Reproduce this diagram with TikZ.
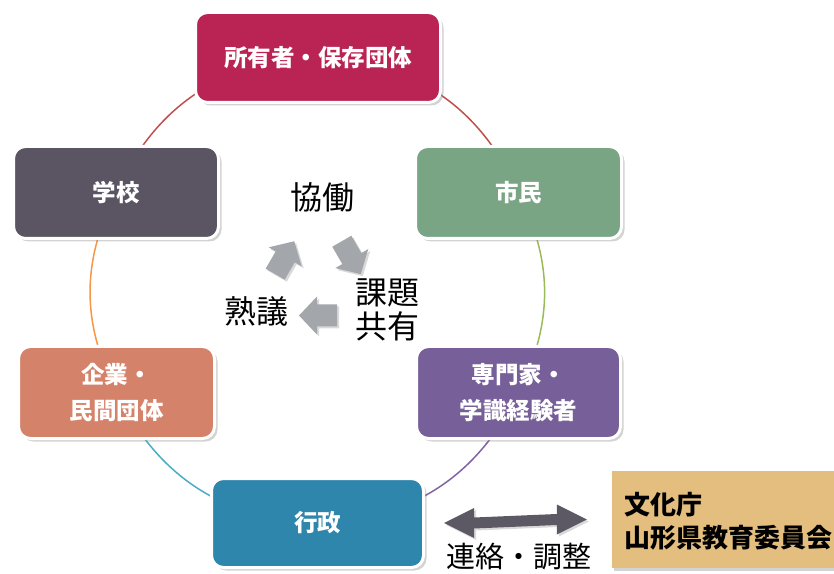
\documentclass[tikz,border=0pt]{standalone}
\usepackage{fontspec}
\setmainfont{Noto Sans CJK JP}
\usetikzlibrary{shadows,calc,backgrounds}
\definecolor{cTop}{HTML}{BA2454}
\definecolor{cSchool}{HTML}{5B5563}
\definecolor{cCitizen}{HTML}{7AA584}
\definecolor{cCorp}{HTML}{D5826B}
\definecolor{cExpert}{HTML}{77609A}
\definecolor{cGov}{HTML}{2F86AD}
\definecolor{cTan}{HTML}{E3BE7E}
\definecolor{cDark}{HTML}{5C5965}
\definecolor{cCyc}{HTML}{A3A6AA}
\definecolor{rRed}{HTML}{C0504D}
\definecolor{rGreen}{HTML}{9BBB59}
\definecolor{rPurple}{HTML}{8064A2}
\definecolor{rBlue}{HTML}{4BACC6}
\definecolor{rOrange}{HTML}{F79646}
\begin{document}
\begin{tikzpicture}[x=1pt,y=1pt,
  box/.style={rounded corners=12pt, draw=white, line width=3pt, text=white,
    font=\fontsize{23.5}{36}\selectfont\bfseries, align=center, inner sep=0pt,
    drop shadow={shadow xshift=3pt, shadow yshift=-3pt, opacity=0.35}},
  ring/.style={line width=1.5pt},
  cyclab/.style={font=\fontsize{32}{36}\selectfont, align=center, inner sep=0pt},
  cycarrow/.style={fill=cCyc, drop shadow={shadow xshift=2pt, shadow yshift=-2pt, opacity=0.3}}
]
\useasboundingbox (0,0) rectangle (834,573);

% boxes
\node[box, fill=cTop, minimum width=245pt, minimum height=90pt] (top) at (318,515.5) {所有者・保存団体};
\node[box, fill=cSchool, minimum width=205pt, minimum height=92pt] (school) at (116,380.5) {学校};
\node[box, fill=cCitizen, minimum width=206pt, minimum height=92pt] (citizen) at (518.5,380.5) {市民};
\node[box, fill=cCorp, minimum width=196pt, minimum height=92pt] (corp) at (116.5,180.5) {企業・\\民間団体};
\node[box, fill=cExpert, minimum width=204pt, minimum height=92pt] (expert) at (518.5,180.5) {専門家・\\学識経験者};
\node[box, fill=cGov, minimum width=212pt, minimum height=89pt] (gov) at (317.5,50) {行政};
\node[fill=cTan, minimum width=224pt, minimum height=97pt, inner sep=0pt,
  drop shadow={shadow xshift=2pt, shadow yshift=-3pt, opacity=0.35}] (bunka) at (724,53.5) {};
\node[anchor=west, align=left, inner sep=0pt, font=\fontsize{26}{33}\selectfont\bfseries, text=black] (bunkatxt) at (624,51.5) {文化庁\\山形県教育委員会};

% ring
\begin{pgfonlayer}{background}
\draw[ring, rRed] (top.center) to[bend left=32] (citizen.center);
\draw[ring, rGreen] (citizen.center) to[bend left=26.5] (expert.center);
\draw[ring, rPurple] (expert.center) to[bend left=31] (gov.center);
\draw[ring, rBlue] (gov.center) to[bend left=31] (corp.center);
\draw[ring, rOrange] (corp.center) to[bend left=26.5] (school.center);
\draw[ring, rRed] (school.center) to[bend left=32] (top.center);
\end{pgfonlayer}

% cycle arrows
\foreach \px/\py/\rot in {284.7/315.3/60, 351.3/315.3/-60, 318/257.5/180}{
  \begin{scope}[shift={(\px,\py)}, rotate=\rot]
    \path[cycarrow] (-19,-11) -- (1,-11) -- (1,-19) -- (19,0) -- (1,19) -- (1,11) -- (-19,11) -- cycle;
  \end{scope}
}
\node[cyclab] (kyodo) at (322,376) {協働};
\node[cyclab, font=\fontsize{32}{34}\selectfont] (kadai) at (387,263) {課題\\共有};
\node[cyclab] (jukugi) at (256,262) {熟議};

% double arrow
\coordinate (L) at ([xshift=19pt]gov.east);
\coordinate (R) at ([xshift=-25pt]bunka.west);
\path[fill=cDark, drop shadow={shadow xshift=2pt, shadow yshift=-2pt, opacity=0.3}]
  (L) -- ($(L)+(30,15)$) -- ($(L)+(30,5.5)$) -- ($(R)+(-30,5.5)$) -- ($(R)+(-30,15)$) -- (R)
  -- ($(R)+(-30,-15)$) -- ($(R)+(-30,-5.5)$) -- ($(L)+(30,-5.5)$) -- ($(L)+(30,-15)$) -- cycle;
\node[font=\fontsize{29}{32}\selectfont, inner sep=0pt] (renraku) at (519,16) {連絡・調整};
\end{tikzpicture}
\end{document}
